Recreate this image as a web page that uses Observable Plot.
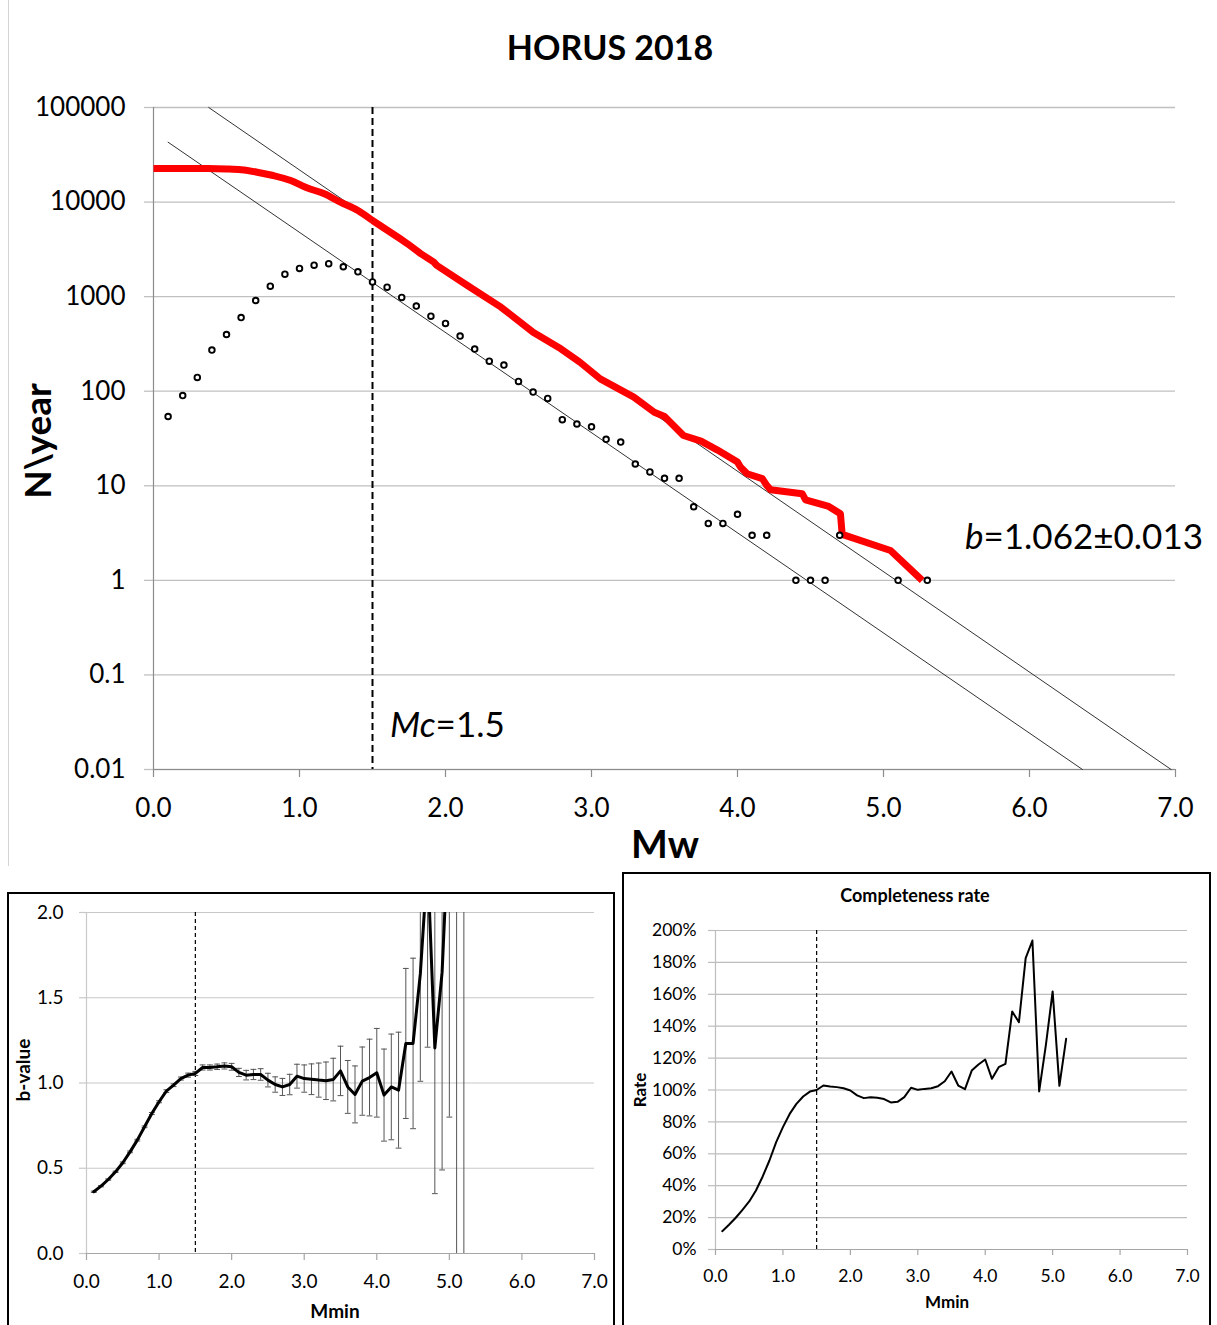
<!DOCTYPE html>
<html><head><meta charset="utf-8">
<script src="https://cdn.jsdelivr.net/npm/d3@7"></script>
<script src="https://cdn.jsdelivr.net/npm/@observablehq/plot@0.6"></script>
<style>
html,body{margin:0;padding:0;background:#fff;}
body{width:1217px;height:1325px;overflow:hidden;position:relative;font-family:Lato,sans-serif;}
.box{position:absolute;border:2.5px solid #000;box-sizing:border-box;}
</style></head><body>
<script>
// ---------- DATA ----------
const mainTitle = "HORUS 2018";
const mainYTicks = [0.01, 0.1, 1, 10, 100, 1000, 10000, 100000];
const mainYLabels = ["0.01", "0.1", "1", "10", "100", "1000", "10000", "100000"];
const xTicks = [0, 1, 2, 3, 4, 5, 6, 7];
const mc = 1.5;

// non-cumulative counts per year (open circles)
const freqM = [0.1,0.2,0.3,0.4,0.5,0.6,0.7,0.8,0.9,1.0,1.1,1.2,1.3,1.4,1.5,1.6,1.7,1.8,1.9,2.0,2.1,2.2,2.3,2.4,2.5,2.6,2.7,2.8,2.9,3.0,3.1,3.2,3.3,3.4,3.5,3.6,3.7,3.8,3.9,4.0,4.1,4.2,4.4,4.5,4.6,4.7,5.1,5.3];
const freqN = [54,90,140,272,398,600,910,1290,1730,1990,2150,2230,2070,1830,1430,1260,980,795,622,521,383,279,208,189,127,98,84,50,45,42,31,29,17,14,12,12,6,4,4,5,3,3,1,1,1,3,1,1];

// cumulative counts per year (red line)
const cumM = [0.0,0.37,0.5,0.6,0.71,0.82,0.94,1.05,1.17,1.28,1.40,1.5,1.69,1.74,1.83,1.92,1.94,2.15,2.38,2.60,2.79,2.92,3.06,3.29,3.43,3.50,3.63,3.75,3.86,4.00,4.02,4.066,4.17,4.20,4.226,4.443,4.466,4.625,4.705,4.717,5.048,5.265];
const cumN = [22650,22650,22400,21950,20700,19100,16900,14160,12240,9980,8150,6390,4090,3620,2850,2317,2140,1313,774,421,281,203,135,86.7,60,54,34,29.7,24,17.8,15.8,13.4,11.9,10.1,9.1,8.25,7.1,6.05,5.07,3.06,2.07,1.0];

// Gutenberg-Richter fit lines (end points)
const fitUpperM = [0.378, 6.97];
const fitUpperN = [100000, 0.01];
const fitLowerM = [0.1, 6.363];
const fitLowerN = [42950, 0.01];

const bLabel = "b=1.062±0.013";

// b-value vs Mmin
const bM = [0.1,0.2,0.3,0.4,0.5,0.6,0.7,0.8,0.9,1.0,1.1,1.2,1.3,1.4,1.5,1.6,1.7,1.8,1.9,2.0,2.1,2.2,2.3,2.4,2.5,2.6,2.7,2.8,2.9,3.0,3.1,3.2,3.3,3.4,3.5,3.6,3.7,3.8,3.9,4.0,4.1,4.2,4.3,4.4,4.5,4.6,4.7,4.8,4.9,5.0,5.1,5.2];
const bVal = [0.362,0.395,0.434,0.479,0.532,0.596,0.665,0.743,0.821,0.890,0.952,0.987,1.026,1.046,1.056,1.091,1.091,1.095,1.100,1.095,1.062,1.046,1.050,1.050,1.017,0.991,0.977,0.991,1.040,1.026,1.022,1.017,1.013,1.020,1.071,0.977,0.933,1.011,1.032,1.060,0.929,0.977,0.958,1.232,1.232,1.64,2.30,1.206,1.65,2.60,3.5,3.5];
const bErr = [0.004,0.004,0.004,0.004,0.005,0.005,0.005,0.005,0.006,0.006,0.008,0.008,0.009,0.012,0.012,0.015,0.015,0.016,0.018,0.020,0.024,0.028,0.030,0.034,0.040,0.045,0.050,0.060,0.070,0.080,0.090,0.100,0.110,0.125,0.145,0.155,0.167,0.200,0.225,0.260,0.270,0.310,0.340,0.440,0.500,0.630,1.090,0.855,1.160,1.800,6,6];
const bTicks = [0, 0.5, 1.0, 1.5, 2.0];

// completeness rate (%) vs Mmin
const rateM = bM;
const rateVal = [11.5,15.5,19.9,24.9,30.1,37,45.8,55.8,67.3,76.7,85,91.3,95.9,99,100,102.8,102.2,101.8,101.1,99.7,96.6,94.9,95.5,95.1,94.3,92.2,92.6,95.5,101.4,100.1,100.7,101.1,102.4,105.5,111.6,102.8,100.5,112.2,116,119.1,107,114.3,116.4,149.2,142.5,182.7,193.7,99.1,128.3,161.8,102.6,132.1];
const rateTicks = [0,20,40,60,80,100,120,140,160,180,200];
const rateTitle = "Completeness rate";

// ---------- BUILD ----------
const FONT = "Lato, sans-serif";
const freq = freqM.map((m, i) => ({m, n: freqN[i]}));
const cum = cumM.map((m, i) => ({m, n: cumN[i]}));
const cumSmooth = cum.filter(d => d.m <= 1.5);   // smooth roll-off part
const cumSteps = cum.filter(d => d.m >= 1.5);    // jagged tail
const fits = [
  ...fitUpperM.map((m, i) => ({m, n: fitUpperN[i], k: "upper"})),
  ...fitLowerM.map((m, i) => ({m, n: fitLowerN[i], k: "lower"}))
];
const bData = bM.map((m, i) => ({m, b: bVal[i], e: bErr[i]}));
const rate = rateM.map((m, i) => ({m, r: rateVal[i]}));
const yLab = new Map(mainYTicks.map((t, i) => [t, mainYLabels[i]]));

function place(el, left, top) {
  el.style.position = "absolute";
  el.style.left = left + "px";
  el.style.top = top + "px";
  document.body.appendChild(el);
}

// left gray border of the top figure
const edge = document.createElement("div");
edge.style.cssText = "position:absolute;left:8px;top:0;width:1px;height:866px;background:#d4d4d4;";
document.body.appendChild(edge);

const main = Plot.plot({
  width: 1217, height: 870,
  marginLeft: 153, marginRight: 42, marginTop: 107, marginBottom: 101,
  style: {fontFamily: FONT, background: "transparent", color: "#000"},
  x: {domain: [0, 7]},
  y: {type: "log", domain: [0.01, 100000]},
  marks: [
    Plot.gridY(mainYTicks, {stroke: "#c0c0c0", strokeOpacity: 1, strokeWidth: 1.3}),
    Plot.axisY(mainYTicks, {tickSize: 9, tickPadding: 19, stroke: "#c0c0c0", strokeWidth: 1.3, fontSize: 26, fill: "#000", tickFormat: d => yLab.get(d), label: null}),
    Plot.ruleX([0], {stroke: "#8c8c8c", strokeWidth: 1.2}),
    Plot.ruleY([0.01], {stroke: "#8c8c8c", strokeWidth: 1.2}),
    Plot.axisX(xTicks, {tickSize: 8, tickPadding: 21, stroke: "#8c8c8c", strokeWidth: 1.2, fontSize: 26, fill: "#000", tickFormat: d => d.toFixed(1), label: null}),
    Plot.ruleX([mc], {stroke: "#000", strokeWidth: 2, strokeDasharray: "7,4"}),
    Plot.line(fits, {x: "m", y: "n", z: "k", stroke: "#333", strokeWidth: 1}),
    Plot.line(cumSteps, {x: "m", y: "n", stroke: "#ff0000", strokeWidth: 7, strokeLinejoin: "round", strokeLinecap: "butt"}),
    Plot.line(cumSmooth, {x: "m", y: "n", stroke: "#ff0000", strokeWidth: 7, strokeLinejoin: "round", strokeLinecap: "butt", curve: "monotone-x"}),
    Plot.dot(freq, {x: "m", y: "n", r: 2.8, stroke: "#000", strokeWidth: 1.9, fill: "#fff"})
  ]
});
place(main, 0, 0);

// bottom-left box
const boxL = document.createElement("div");
boxL.className = "box";
boxL.style.cssText += "left:7px;top:892px;width:608px;height:460px;";
document.body.appendChild(boxL);

const bl = Plot.plot({
  width: 600, height: 430,
  marginLeft: 76, marginRight: 16, marginTop: 17, marginBottom: 72,
  style: {fontFamily: FONT, background: "transparent", color: "#000"},
  x: {domain: [0, 7]},
  y: {domain: [0, 2]},
  marks: [
    Plot.gridY(bTicks, {stroke: "#c8c8c8", strokeOpacity: 1, strokeWidth: 1.2}),
    Plot.axisY(bTicks, {tickSize: 7, tickPadding: 16, stroke: "#c8c8c8", strokeWidth: 1.2, fontSize: 19, fill: "#000", tickFormat: d => d.toFixed(1), label: null}),
    Plot.ruleX([0], {stroke: "#c8c8c8", strokeWidth: 1.2}),
    Plot.ruleY([0], {stroke: "#a6a6a6", strokeWidth: 1.2}),
    Plot.axisX(xTicks, {tickSize: 7, tickPadding: 14, stroke: "#a6a6a6", strokeWidth: 1.2, fontSize: 19, fill: "#000", tickFormat: d => d.toFixed(1), label: null}),
    Plot.ruleX([mc], {stroke: "#000", strokeWidth: 1.2, strokeDasharray: "4,3"}),
    Plot.ruleX(bData, {x: "m", y1: d => d.b - d.e, y2: d => d.b + d.e, stroke: "#555", strokeWidth: 1, clip: true}),
    Plot.link(bData, {x1: d => d.m - 0.04, x2: d => d.m + 0.04, y1: d => d.b - d.e, y2: d => d.b - d.e, stroke: "#555", strokeWidth: 1, clip: true}),
    Plot.link(bData, {x1: d => d.m - 0.04, x2: d => d.m + 0.04, y1: d => d.b + d.e, y2: d => d.b + d.e, stroke: "#555", strokeWidth: 1, clip: true}),
    Plot.line(bData, {x: "m", y: "b", stroke: "#000", strokeWidth: 3, strokeLinejoin: "round", clip: true})
  ]
});
place(bl, 10, 895);

// bottom-right box
const boxR = document.createElement("div");
boxR.className = "box";
boxR.style.cssText += "left:622px;top:872px;width:589px;height:480px;";
document.body.appendChild(boxR);

const br = Plot.plot({
  width: 580, height: 450,
  marginLeft: 90, marginRight: 18, marginTop: 55, marginBottom: 76,
  style: {fontFamily: FONT, background: "transparent", color: "#000"},
  x: {domain: [0, 7]},
  y: {domain: [0, 200]},
  marks: [
    Plot.gridY(rateTicks, {stroke: "#bdbdbd", strokeOpacity: 1, strokeWidth: 1.2}),
    Plot.axisY(rateTicks, {tickSize: 7, tickPadding: 12, stroke: "#bdbdbd", strokeWidth: 1.2, fontSize: 17.5, fill: "#000", tickFormat: d => d + "%", label: null}),
    Plot.ruleX([0], {stroke: "#bdbdbd", strokeWidth: 1.2}),
    Plot.ruleY([0], {stroke: "#a6a6a6", strokeWidth: 1.2}),
    Plot.axisX(xTicks, {tickSize: 6, tickPadding: 14, stroke: "#a6a6a6", strokeWidth: 1.2, fontSize: 17.5, fill: "#000", tickFormat: d => d.toFixed(1), label: null}),
    Plot.ruleX([mc], {stroke: "#000", strokeWidth: 1.2, strokeDasharray: "4,3"}),
    Plot.line(rate, {x: "m", y: "r", stroke: "#000", strokeWidth: 2, strokeLinejoin: "round"})
  ]
});
place(br, 625, 875);

// ---------- TEXT OVERLAY ----------
const ov = d3.create("svg").attr("width", 1217).attr("height", 1325)
  .style("position", "absolute").style("left", "0px").style("top", "0px")
  .style("pointer-events", "none").style("font-family", FONT);
function txt(x, y, s, size, opts = {}) {
  const t = ov.append("text").attr("x", x).attr("y", y)
    .attr("font-size", size).attr("fill", "#000")
    .attr("text-anchor", opts.anchor || "middle")
    .attr("font-weight", opts.bold ? 700 : 400);
  if (opts.rotate) t.attr("transform", `rotate(-90 ${x} ${y})`);
  if (s) t.text(s);
  return t;
}
txt(610, 60, mainTitle, 34, {bold: true});
txt(51, 441, "N\\year", 37, {bold: true, rotate: true});
txt(665, 858, "Mw", 39, {bold: true});
{
  const t = txt(390, 737, "", 35, {anchor: "start"});
  t.append("tspan").attr("font-style", "italic").text("Mc");
  t.append("tspan").text("=" + mc.toFixed(1));
}
{
  const t = txt(965, 549, "", 35, {anchor: "start"});
  const parts = bLabel.split("=");
  t.append("tspan").attr("font-style", "italic").text(parts[0]);
  t.append("tspan").text("=" + parts[1]);
}
txt(30, 1070, "b-value", 19, {bold: true, rotate: true});
txt(335, 1318, "Mmin", 19, {bold: true});
txt(915, 902, rateTitle, 18, {bold: true});
txt(646, 1090, "Rate", 17, {bold: true, rotate: true});
txt(947, 1308, "Mmin", 17, {bold: true});
document.body.appendChild(ov.node());
</script>
</body></html>
